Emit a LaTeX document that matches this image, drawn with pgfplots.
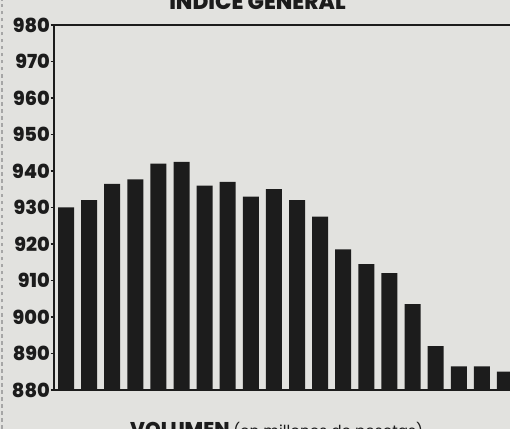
\documentclass[border=0pt]{standalone}
\usepackage{pgfplots}
\pgfplotsset{compat=1.18}
\usepackage{fontspec}
\setmainfont{Poppins}[BoldFont={Poppins ExtraBold}]
\definecolor{paper}{RGB}{226,226,223}
\definecolor{ink}{RGB}{28,28,28}
\begin{document}
\begin{tikzpicture}[x=0.03cm,y=0.03cm]
\useasboundingbox (0,0) rectangle (510,429);
\fill[paper] (0,0) rectangle (510,429);
\clip (0,0) rectangle (510,429);
\draw[gray!70, dashed, line width=1pt] (2,0) -- (2,429);
\node[font=\bfseries\fontsize{18.5}{18.5}\selectfont, text=ink, anchor=base] at (257.5,419) {INDICE GENERAL};
\node[font=\bfseries\fontsize{17}{17}\selectfont, text=ink, anchor=base west, inner sep=0pt] at (130,-8) {VOLUMEN \mdseries\fontsize{13}{13}\selectfont(en millones de pesetas)};
\begin{axis}[
  at={(1.62cm,1.17cm)}, anchor=south west,
  scale only axis, width=13.944cm, height=10.95cm,
  xmin=-0.52, xmax=19.6, ymin=880, ymax=980,
  ybar, bar width=0.48cm,
  axis line style={ink, line width=1.6pt},
  xtick=\empty,
  ytick={880,890,...,980},
  ytick pos=left, tick align=outside,
  major tick length=0.1cm,
  tick style={ink, line width=1.2pt},
  yticklabel style={font=\bfseries\fontsize{16.5}{16.5}\selectfont, text=ink, inner xsep=0.5pt},
  /pgf/number format/assume math mode=true,
  /pgf/number format/set thousands separator={},
]
\addplot[fill=ink, draw=none] coordinates {
(0,930) (1,932) (2,936.5) (3,937.7) (4,942) (5,942.5) (6,936) (7,937) (8,933) (9,935)
(10,932) (11,927.5) (12,918.5) (13,914.5) (14,912) (15,903.5) (16,892) (17,886.5) (18,886.5) (19,885)
};
\end{axis}
\end{tikzpicture}
\end{document}
